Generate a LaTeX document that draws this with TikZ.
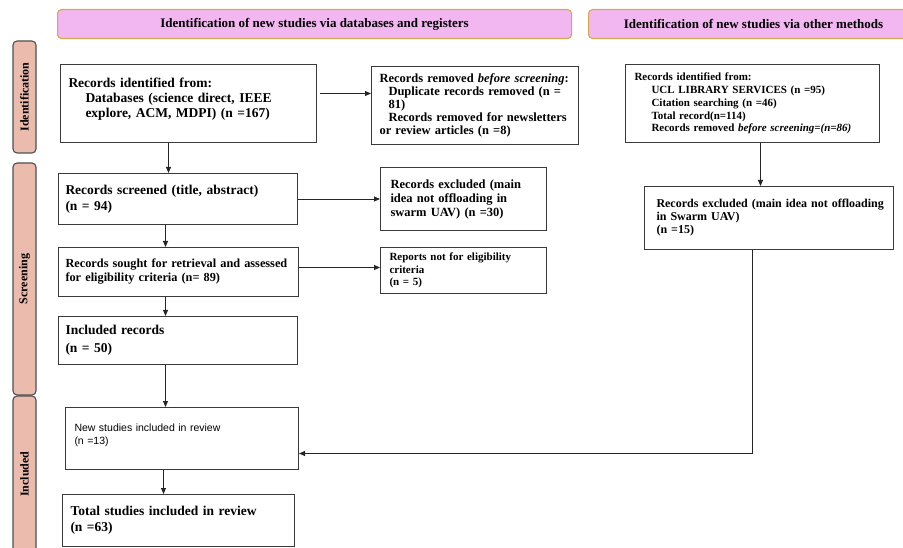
\documentclass[tikz,border=0pt]{standalone}
\usepackage{fontspec}
\setmainfont{Liberation Serif}
\newfontfamily\arialfont{Liberation Sans}
\usetikzlibrary{arrows.meta}
\definecolor{boxgray}{HTML}{3A3A3A}
\definecolor{hdrfill}{HTML}{F2B6F0}
\definecolor{hdrborder}{HTML}{D8A84E}
\definecolor{sidefill}{HTML}{EBBBAE}
\definecolor{sideborder}{HTML}{505050}
\tikzset{
  box/.style={draw=boxgray, line width=1pt, fill=white, align=left, inner xsep=8pt, inner ysep=2pt, anchor=north west},
  arr/.style={draw=black!85, line width=0.9pt, -{Triangle[length=6pt,width=5pt]}},
  hdr/.style={draw=hdrborder, fill=hdrfill, line width=1.1pt, rounded corners=4pt, align=center,
    font=\bfseries\fontsize{13}{15}\selectfont, anchor=north west, minimum height=29pt, inner sep=0pt},
  side/.style={draw=sideborder, fill=sidefill, line width=1.1pt, rounded corners=4pt, rotate=90,
    font=\bfseries\fontsize{12}{14}\selectfont, minimum height=23pt, inner sep=0pt}
}
\begin{document}
\begin{tikzpicture}[x=1pt,y=-1pt]
\useasboundingbox (0,0) rectangle (903,548);

% headers
\node[hdr, minimum width=514pt] (h1) at (57,9) {Identification of new studies via databases and registers};
\node[hdr, minimum width=330pt] (h2) at (588,9) {Identification of new studies via other methods};

% side labels
\node[side, minimum width=112pt] (s1) at (24.5,97) {Identification};
\node[side, minimum width=232pt] (s2) at (24.5,279) {Screening};
\node[side, minimum width=156pt] (s3) at (24.5,474) {Included};

% boxes
\node[box, text width=240pt, minimum width=256pt, minimum height=78pt,
  font=\bfseries\fontsize{13.5}{15}\selectfont] (A) at (60,64)
  {Records identified from:\\
   \hspace*{17pt}Databases (science direct, IEEE\\
   \hspace*{17pt}explore, ACM, MDPI) (n =167)\\[-3pt]\mbox{}};

\node[box, text width=191pt, minimum width=207pt, minimum height=78pt,
  font=\bfseries\fontsize{12.5}{13}\selectfont] (B) at (371,66)
  {Records removed \textit{before screening}:\\
   \hspace*{9pt}Duplicate records removed (n =\\
   \hspace*{9pt}81)\\
   \hspace*{9pt}Records removed for newsletters\\
   or review articles (n =8)};

\node[box, text width=236pt, minimum width=254pt, minimum height=78pt, inner xsep=9pt,
  font=\bfseries\fontsize{11}{12.8}\selectfont] (C) at (625,64)
  {Records identified from:\\
   \hspace*{17pt}UCL LIBRARY SERVICES (n =95)\\
   \hspace*{17pt}Citation searching (n =46)\\
   \hspace*{17pt}Total record(n=114)\\
   \hspace*{17pt}Records removed \textit{before screening=(n=86)}};

\node[box, text width=225pt, minimum width=249pt, minimum height=63pt, inner xsep=12pt,
  font=\bfseries\fontsize{12}{13}\selectfont] (D) at (644,186)
  {\mbox{Records excluded (main idea not offloading}\\
   in Swarm UAV)\\
   (n =15)};

\node[box, text width=225pt, minimum width=239pt, minimum height=51pt, inner xsep=7pt,
  font=\bfseries\fontsize{13.5}{16}\selectfont] (E) at (58,173)
  {Records screened (title, abstract)\\
   (n = 94)};

\node[box, text width=146pt, minimum width=166pt, minimum height=63pt, inner xsep=10pt,
  font=\bfseries\fontsize{12.5}{14}\selectfont] (F) at (380,167)
  {Records excluded (main\\
   idea not offloading in\\
   swarm UAV) (n =30)};

\node[box, text width=226pt, minimum width=240pt, minimum height=49pt, inner xsep=7pt,
  font=\bfseries\fontsize{12.3}{14}\selectfont] (G) at (58,247)
  {Records sought for retrieval and assessed\\
   for eligibility criteria (n= 89)};

\node[box, text width=148pt, minimum width=166pt, minimum height=46pt, inner xsep=9pt,
  font=\bfseries\fontsize{11}{12.5}\selectfont] (H) at (380,247)
  {Reports not for eligibility\\
   criteria\\
   (n = 5)};

\node[box, text width=225pt, minimum width=239pt, minimum height=48pt, inner xsep=7pt,
  font=\bfseries\fontsize{13.5}{18}\selectfont] (I) at (58,316)
  {Included records\\
   (n = 50)};

\node[box, text width=215pt, minimum width=233pt, minimum height=62pt, inner xsep=9pt,
  font=\arialfont\fontsize{10.5}{12.5}\selectfont] (J) at (65,407)
  {New studies included in review\\
   (n =13)\\[-4pt]\mbox{}};

\node[box, text width=216pt, minimum width=232pt, minimum height=52pt, inner xsep=8pt,
  font=\bfseries\fontsize{13.5}{16}\selectfont] (K) at (62,494)
  {Total studies included in review\\
   (n =63)};

% connectors
\draw[arr, shorten <=3pt] ([yshift=10pt]A.east) -- ([yshift=10pt]A.east -| B.west);
\draw[arr] ([xshift=-20pt]A.south) -- ([xshift=-20pt]A.south |- E.north);
\draw[arr] (E.east) -- (E.east -| F.west);
\draw[arr] ([xshift=-12.5pt]E.south) -- ([xshift=-12.5pt]E.south |- G.north);
\draw[arr] ([yshift=4.5pt]G.east) -- ([yshift=4.5pt]G.east -| H.west);
\draw[arr] ([xshift=-13pt]G.south) -- ([xshift=-13pt]G.south |- I.north);
\draw[arr] ([xshift=-12.5pt]I.south) -- ([xshift=-12.5pt]I.south |- J.north);
\draw[arr] ([xshift=-18.5pt]J.south) -- ([xshift=-18.5pt]J.south |- K.north);
\draw[arr] ([xshift=8pt]C.south) -- ([xshift=8pt]C.south |- D.north);
\draw[arr] ([xshift=-16.5pt]D.south) |- ([yshift=-15pt]J.east);
\end{tikzpicture}
\end{document}
